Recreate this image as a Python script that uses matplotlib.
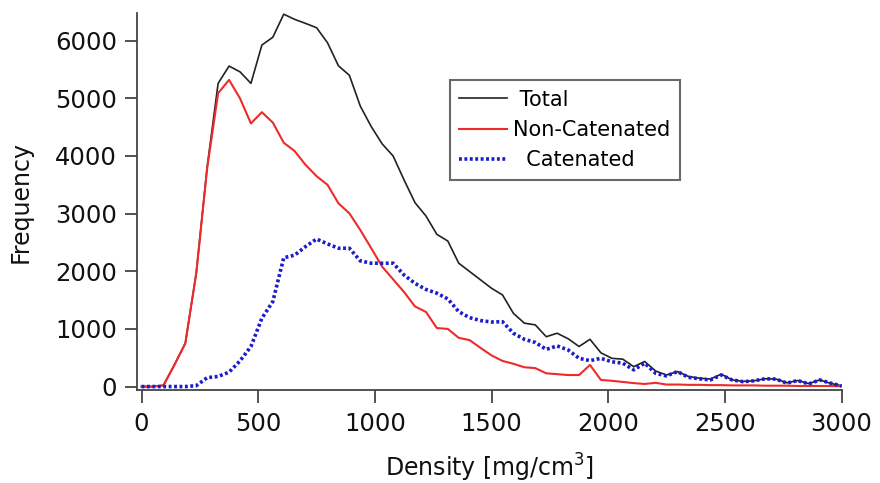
import numpy as np
import matplotlib
matplotlib.use('Agg')
import matplotlib.pyplot as plt

# density bins (65 points, 0..3000)
density = np.linspace(0, 3000, 65)

total = [0, 0, 20, 375, 750, 1965, 3815, 5260, 5560, 5460,
         5260, 5925, 6060, 6460, 6370, 6300, 6225, 5965, 5565, 5400,
         4865, 4510, 4210, 4000, 3585, 3190, 2960, 2640, 2525, 2140,
         1995, 1850, 1705, 1590, 1270, 1100, 1070, 865, 925, 830,
         695, 820, 585, 490, 475, 345, 435, 270, 200, 260,
         175, 145, 130, 215, 115, 90, 100, 135, 130, 65,
         105, 50, 115, 55, 15]

non_catenated = [0, 0, 20, 375, 750, 1965, 3790, 5090, 5320, 5000,
                 4565, 4760, 4580, 4230, 4085, 3845, 3650, 3500, 3180, 3005,
                 2715, 2400, 2080, 1860, 1640, 1390, 1295, 1015, 1000, 845,
                 805, 670, 540, 445, 395, 335, 320, 230, 215, 200,
                 200, 375, 115, 100, 80, 60, 45, 65, 35, 35,
                 30, 30, 25, 25, 20, 20, 20, 15, 15, 15,
                 10, 10, 10, 10, 5]

catenated = [0, 0, 0, 0, 0, 15, 155, 175, 250, 445,
             695, 1185, 1475, 2235, 2280, 2430, 2560, 2475, 2400, 2400,
             2180, 2140, 2140, 2140, 1935, 1790, 1685, 1620, 1520, 1300,
             1195, 1145, 1120, 1125, 925, 820, 765, 645, 705, 635,
             490, 450, 490, 430, 405, 290, 405, 230, 185, 260,
             160, 135, 115, 200, 115, 85, 100, 135, 130, 60,
             105, 45, 115, 60, 10]

plt.rcParams['font.family'] = ['DejaVu Sans']

fig = plt.figure(figsize=(8.8, 4.83), dpi=100)
ax = fig.add_axes([0.1553, 0.1925, 0.801, 0.7805])

ax.plot(density, total, color='#222222', lw=1.2, label=' Total')
ax.plot(density, non_catenated, color='#ee2a2a', lw=1.5, label='Non-Catenated')
ax.plot(density, catenated, color='#1c1ccc', lw=2.6, linestyle=(0, (0.8, 0.7)),
        label='  Catenated')

ax.set_xlim(-21, 3000)
ax.set_ylim(-60, 6480)
ax.set_xticks([0, 500, 1000, 1500, 2000, 2500, 3000])
ax.set_yticks([0, 1000, 2000, 3000, 4000, 5000, 6000])

for s in ['top', 'right']:
    ax.spines[s].set_visible(False)
for s in ['left', 'bottom']:
    ax.spines[s].set_color('#444444')
    ax.spines[s].set_linewidth(1.3)

ax.tick_params(axis='both', direction='out', length=9, width=1.3,
               color='#444444', labelsize=17.5, labelcolor='#111111')
ax.tick_params(axis='x', pad=7)
ax.tick_params(axis='y', pad=5)

ax.set_xlabel(r'Density [mg/cm$^3$]', fontsize=17, color='#111111', labelpad=11)
ax.set_ylabel('Frequency', fontsize=17, color='#111111', labelpad=16)

leg = ax.legend(loc='upper left', bbox_to_anchor=(0.444, 0.822), borderaxespad=0,
                fontsize=15, frameon=True, fancybox=False, handlelength=2.3,
                handletextpad=0.3, borderpad=0.45, labelspacing=0.5)
leg.get_frame().set_edgecolor('#444444')
leg.get_frame().set_linewidth(1.5)

fig.savefig('out.png', dpi=100)
